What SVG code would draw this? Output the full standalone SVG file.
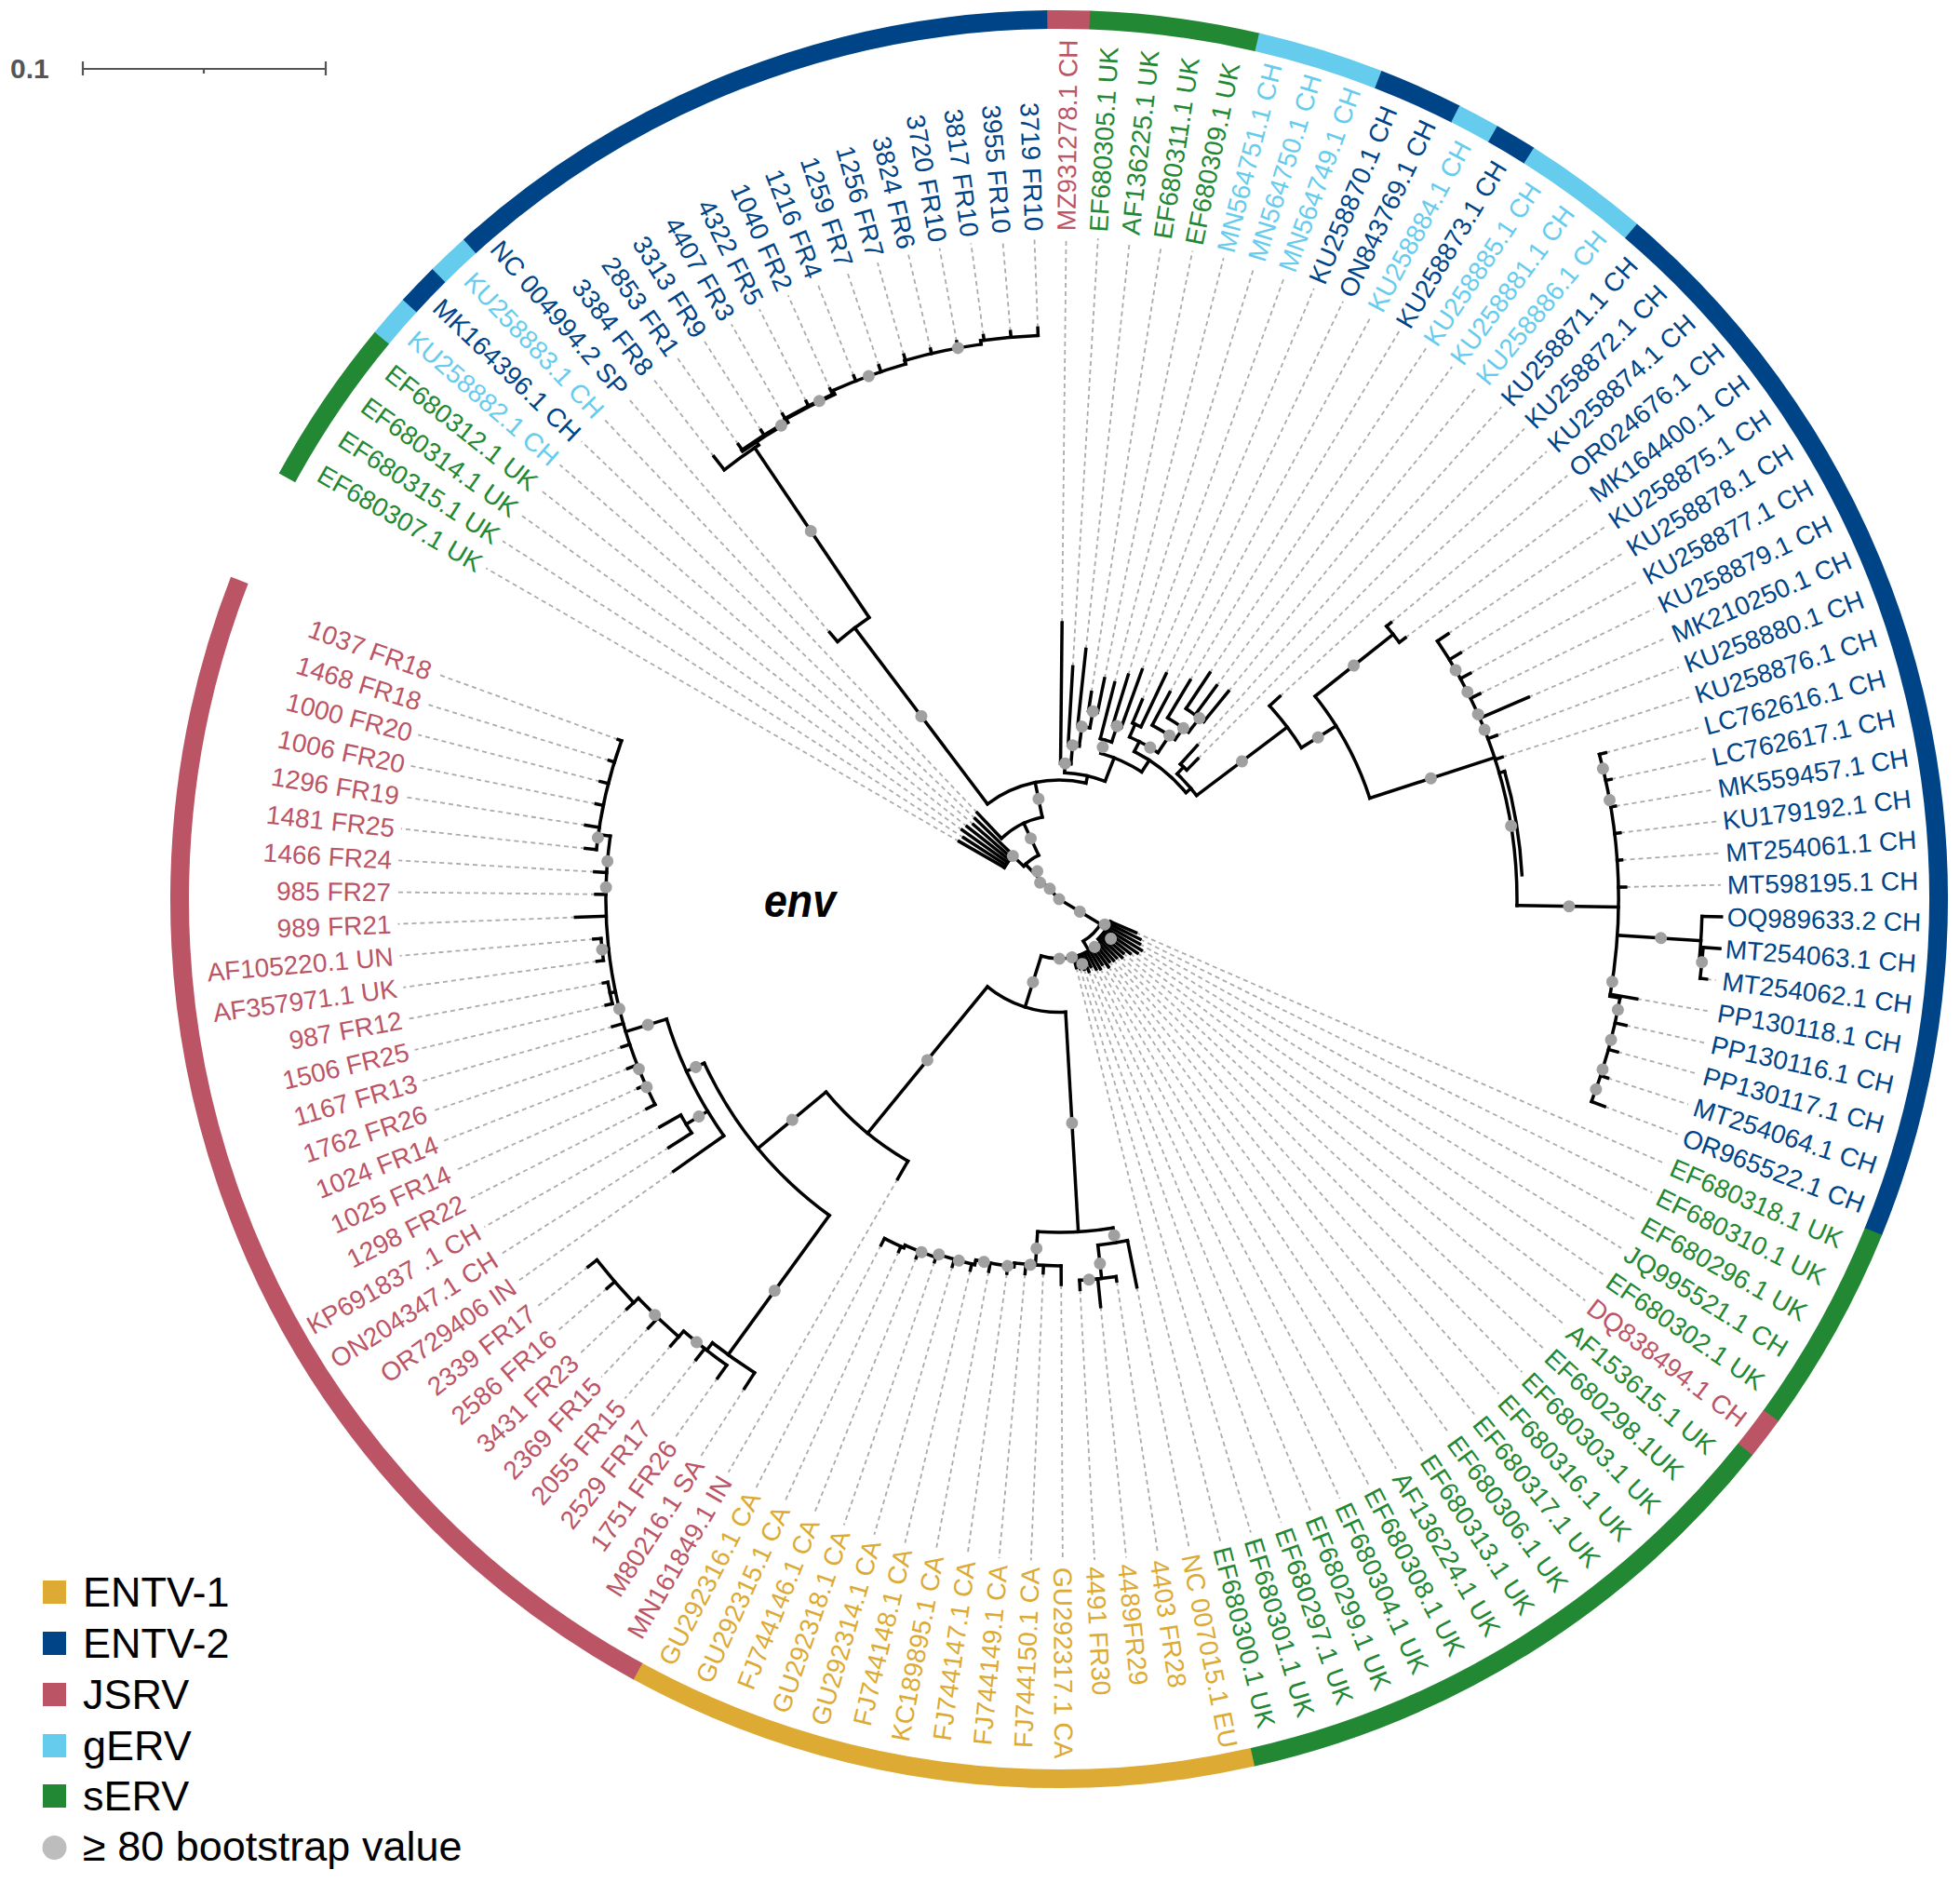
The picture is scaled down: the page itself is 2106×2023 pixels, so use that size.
<svg xmlns="http://www.w3.org/2000/svg" width="2106" height="2023" viewBox="0 0 2106 2023">
<style>
.t{fill:none;stroke:#000;stroke-width:3.5;stroke-linecap:square}
.d{stroke:#ababab;stroke-width:1.8;stroke-dasharray:5 4}
.b{fill:#a0a0a0}
.L{font-family:"Liberation Sans",Arial,sans-serif;font-size:28px}
.e{text-anchor:end}
.c1{fill:#DDAA33}.c2{fill:#004488}.c3{fill:#BB5566}.c4{fill:#66CCEE}.c5{fill:#228833}
.rg{fill:none;stroke-width:20}
.lg{font-family:"Liberation Sans",Arial,sans-serif;font-size:45px;fill:#000}
</style>
<rect width="2106" height="2023" fill="#fff"/>
<g id="scalebar" stroke="#555" stroke-width="2.2" fill="none">
<line x1="89" y1="74" x2="350" y2="74"/><line x1="89" y1="66" x2="89" y2="81"/><line x1="350" y1="66" x2="350" y2="81"/><line x1="219" y1="74" x2="219" y2="79"/>
</g>
<text x="11" y="84" font-family="Liberation Sans, Arial, sans-serif" font-size="30" font-weight="bold" fill="#555">0.1</text>
<text x="821" y="985" font-family="Liberation Sans, Arial, sans-serif" font-size="50" font-weight="bold" font-style="italic" textLength="77" lengthAdjust="spacingAndGlyphs">env</text>
<g transform="translate(1138 966)">
<g id="ring">
<circle class="rg" r="945" stroke="#228833" pathLength="360" stroke-dasharray="11.07 360" transform="rotate(208.62)"/>
<circle class="rg" r="945" stroke="#66CCEE" pathLength="360" stroke-dasharray="2.8 360" transform="rotate(219.64)"/>
<circle class="rg" r="945" stroke="#004488" pathLength="360" stroke-dasharray="2.8 360" transform="rotate(222.40)"/>
<circle class="rg" r="945" stroke="#66CCEE" pathLength="360" stroke-dasharray="2.8 360" transform="rotate(225.15)"/>
<circle class="rg" r="945" stroke="#004488" pathLength="360" stroke-dasharray="41.37 360" transform="rotate(227.91)"/>
<circle class="rg" r="945" stroke="#BB5566" pathLength="360" stroke-dasharray="2.8 360" transform="rotate(269.23)"/>
<circle class="rg" r="945" stroke="#228833" pathLength="360" stroke-dasharray="11.07 360" transform="rotate(-88.01)"/>
<circle class="rg" r="945" stroke="#66CCEE" pathLength="360" stroke-dasharray="8.31 360" transform="rotate(-76.99)"/>
<circle class="rg" r="945" stroke="#004488" pathLength="360" stroke-dasharray="5.56 360" transform="rotate(-68.73)"/>
<circle class="rg" r="945" stroke="#66CCEE" pathLength="360" stroke-dasharray="2.8 360" transform="rotate(-63.22)"/>
<circle class="rg" r="945" stroke="#004488" pathLength="360" stroke-dasharray="2.8 360" transform="rotate(-60.46)"/>
<circle class="rg" r="945" stroke="#66CCEE" pathLength="360" stroke-dasharray="8.31 360" transform="rotate(-57.71)"/>
<circle class="rg" r="945" stroke="#004488" pathLength="360" stroke-dasharray="71.68 360" transform="rotate(-49.44)"/>
<circle class="rg" r="945" stroke="#228833" pathLength="360" stroke-dasharray="13.82 360" transform="rotate(22.19)"/>
<circle class="rg" r="945" stroke="#BB5566" pathLength="360" stroke-dasharray="2.8 360" transform="rotate(35.96)"/>
<circle class="rg" r="945" stroke="#228833" pathLength="360" stroke-dasharray="38.62 360" transform="rotate(38.72)"/>
<circle class="rg" r="945" stroke="#DDAA33" pathLength="360" stroke-dasharray="41.37 360" transform="rotate(77.29)"/>
<circle class="rg" r="945" stroke="#BB5566" pathLength="360" stroke-dasharray="82.65 360" transform="rotate(118.61)"/>
</g>
<g id="connectors">
<g id="leaders" class="d">
<line x1="124" x2="711" transform="rotate(210)"/><line x1="122" x2="711" transform="rotate(212.76)"/><line x1="128" x2="711" transform="rotate(215.51)"/><line x1="126" x2="711" transform="rotate(218.27)"/><line x1="122" x2="711" transform="rotate(221.02)"/><line x1="125" x2="711" transform="rotate(223.78)"/><line x1="128" x2="711" transform="rotate(226.53)"/><line x1="378" x2="711" transform="rotate(229.29)"/><line x1="603" x2="711" transform="rotate(232.04)"/><line x1="598" x2="711" transform="rotate(234.8)"/><line x1="597" x2="711" transform="rotate(237.55)"/><line x1="600" x2="711" transform="rotate(240.31)"/><line x1="600" x2="711" transform="rotate(243.06)"/><line x1="601" x2="711" transform="rotate(245.82)"/><line x1="604" x2="711" transform="rotate(248.57)"/><line x1="605" x2="711" transform="rotate(251.33)"/><line x1="608" x2="711" transform="rotate(254.08)"/><line x1="607" x2="711" transform="rotate(256.84)"/><line x1="609" x2="711" transform="rotate(259.59)"/><line x1="611" x2="711" transform="rotate(262.35)"/><line x1="612" x2="711" transform="rotate(265.1)"/><line x1="614" x2="711" transform="rotate(267.86)"/>
<line x1="297" x2="711" transform="rotate(-89.39)"/><line x1="250" x2="711" transform="rotate(-86.63)"/><line x1="270" x2="711" transform="rotate(-83.88)"/><line x1="225" x2="711" transform="rotate(-81.12)"/><line x1="242" x2="711" transform="rotate(-78.37)"/><line x1="240" x2="711" transform="rotate(-75.61)"/><line x1="252" x2="711" transform="rotate(-72.86)"/><line x1="262" x2="711" transform="rotate(-70.1)"/><line x1="232" x2="711" transform="rotate(-67.35)"/><line x1="268" x2="711" transform="rotate(-64.59)"/><line x1="252" x2="711" transform="rotate(-61.84)"/><line x1="274" x2="711" transform="rotate(-59.08)"/><line x1="292" x2="711" transform="rotate(-56.33)"/><line x1="285" x2="711" transform="rotate(-53.57)"/><line x1="288" x2="711" transform="rotate(-50.82)"/><line x1="222" x2="711" transform="rotate(-48.06)"/><line x1="212" x2="711" transform="rotate(-45.31)"/><line x1="322" x2="711" transform="rotate(-42.55)"/><line x1="464" x2="711" transform="rotate(-39.8)"/><line x1="466" x2="711" transform="rotate(-37.04)"/><line x1="506" x2="711" transform="rotate(-34.29)"/><line x1="506" x2="711" transform="rotate(-31.53)"/><line x1="504" x2="711" transform="rotate(-28.78)"/><line x1="503" x2="711" transform="rotate(-26.02)"/><line x1="549" x2="711" transform="rotate(-23.27)"/><line x1="502" x2="711" transform="rotate(-20.51)"/><line x1="500" x2="711" transform="rotate(-17.76)"/><line x1="608" x2="711" transform="rotate(-15)"/><line x1="607" x2="711" transform="rotate(-12.25)"/><line x1="606" x2="711" transform="rotate(-9.49)"/><line x1="607" x2="711" transform="rotate(-6.74)"/><line x1="606" x2="711" transform="rotate(-3.98)"/><line x1="609" x2="711" transform="rotate(-1.23)"/><line x1="701" x2="711" transform="rotate(7.04)"/><line x1="630" x2="711" transform="rotate(9.79)"/><line x1="624" x2="711" transform="rotate(12.55)"/><line x1="622" x2="711" transform="rotate(15.3)"/><line x1="620" x2="711" transform="rotate(18.06)"/><line x1="627" x2="711" transform="rotate(20.81)"/>
<line x1="90" x2="711" transform="rotate(23.57)"/><line x1="97" x2="711" transform="rotate(26.32)"/><line x1="99" x2="711" transform="rotate(29.08)"/><line x1="104" x2="711" transform="rotate(31.83)"/><line x1="102" x2="711" transform="rotate(34.59)"/><line x1="96" x2="711" transform="rotate(37.34)"/><line x1="90" x2="711" transform="rotate(40.1)"/><line x1="92" x2="711" transform="rotate(42.85)"/><line x1="88" x2="711" transform="rotate(45.61)"/><line x1="88" x2="711" transform="rotate(48.36)"/><line x1="86" x2="711" transform="rotate(51.12)"/><line x1="90" x2="711" transform="rotate(53.87)"/><line x1="84" x2="711" transform="rotate(56.63)"/><line x1="87" x2="711" transform="rotate(59.38)"/><line x1="85" x2="711" transform="rotate(62.14)"/><line x1="80" x2="711" transform="rotate(64.89)"/><line x1="84" x2="711" transform="rotate(67.65)"/><line x1="80" x2="711" transform="rotate(70.4)"/><line x1="78" x2="711" transform="rotate(73.16)"/><line x1="76" x2="711" transform="rotate(75.91)"/>
<line x1="425" x2="711" transform="rotate(78.67)"/><line x1="415" x2="711" transform="rotate(81.42)"/><line x1="440" x2="711" transform="rotate(84.18)"/><line x1="420" x2="711" transform="rotate(86.93)"/><line x1="414" x2="711" transform="rotate(89.69)"/><line x1="402" x2="711" transform="rotate(92.44)"/><line x1="404" x2="711" transform="rotate(95.2)"/><line x1="406" x2="711" transform="rotate(97.95)"/><line x1="407" x2="711" transform="rotate(100.71)"/><line x1="410" x2="711" transform="rotate(103.46)"/><line x1="411" x2="711" transform="rotate(106.22)"/><line x1="412" x2="711" transform="rotate(108.97)"/><line x1="415" x2="711" transform="rotate(111.73)"/><line x1="416" x2="711" transform="rotate(114.48)"/><line x1="418" x2="711" transform="rotate(117.24)"/>
<line x1="347" x2="711" transform="rotate(119.99)"/><line x1="625" x2="711" transform="rotate(122.75)"/><line x1="632" x2="711" transform="rotate(125.5)"/><line x1="630" x2="711" transform="rotate(128.26)"/><line x1="636" x2="711" transform="rotate(131.01)"/><line x1="638" x2="711" transform="rotate(133.77)"/><line x1="640" x2="711" transform="rotate(136.52)"/><line x1="641" x2="711" transform="rotate(139.28)"/><line x1="642" x2="711" transform="rotate(142.03)"/><line x1="507" x2="711" transform="rotate(144.79)"/><line x1="497" x2="711" transform="rotate(147.54)"/><line x1="494" x2="711" transform="rotate(150.3)"/><line x1="497" x2="711" transform="rotate(153.05)"/><line x1="496" x2="711" transform="rotate(155.81)"/><line x1="498" x2="711" transform="rotate(158.56)"/><line x1="496" x2="711" transform="rotate(161.32)"/><line x1="499" x2="711" transform="rotate(164.07)"/><line x1="500" x2="711" transform="rotate(166.83)"/><line x1="498" x2="711" transform="rotate(169.58)"/><line x1="501" x2="711" transform="rotate(172.34)"/><line x1="502" x2="711" transform="rotate(175.09)"/><line x1="520" x2="711" transform="rotate(177.85)"/><line x1="498" x2="711" transform="rotate(180.6)"/><line x1="500" x2="711" transform="rotate(183.36)"/><line x1="512" x2="711" transform="rotate(186.11)"/><line x1="515" x2="711" transform="rotate(188.87)"/><line x1="508" x2="711" transform="rotate(191.62)"/><line x1="509" x2="711" transform="rotate(194.38)"/><line x1="506" x2="711" transform="rotate(197.13)"/><line x1="504" x2="711" transform="rotate(199.89)"/>
</g>
<g id="branches" class="t">
<!-- root, up-left -->
<line x1="0" x2="52" transform="rotate(226)"/>
<circle r="52" pathLength="360" stroke-dasharray="22 360" transform="rotate(223)"/>
<line x1="52" x2="90" transform="rotate(245)"/>
<circle r="90" pathLength="360" stroke-dasharray="31.87 360" transform="rotate(226.53)"/>
<line x1="90" x2="128" transform="rotate(226.53)"/>
<line x1="90" x2="128" transform="rotate(258.4)"/>
<line x1="52" x2="68" transform="rotate(223)"/>
<circle r="68" pathLength="360" stroke-dasharray="13.78 360" transform="rotate(210)"/>
<line x1="68" x2="124" transform="rotate(210)"/><line x1="68" x2="122" transform="rotate(212.76)"/><line x1="68" x2="128" transform="rotate(215.51)"/><line x1="68" x2="126" transform="rotate(218.27)"/><line x1="68" x2="122" transform="rotate(221.02)"/><line x1="68" x2="125" transform="rotate(223.78)"/>
<!-- Y -->
<circle r="128" pathLength="360" stroke-dasharray="50 360" transform="rotate(233)"/>
<line x1="128" x2="365" transform="rotate(233)"/>
<circle r="365" pathLength="360" stroke-dasharray="6.71 360" transform="rotate(229.29)"/>
<line x1="365" x2="378" transform="rotate(229.29)"/>
<line x1="365" x2="585" transform="rotate(236)"/>
<circle r="585" pathLength="360" stroke-dasharray="4.46 360" transform="rotate(232.04)"/>
<line x1="585" x2="603" transform="rotate(232.04)"/>
<line x1="585" x2="590" transform="rotate(236.5)"/>
<circle r="590" pathLength="360" stroke-dasharray="5.5 360" transform="rotate(234.8)" stroke-width="5"/>
<line x1="590" x2="594" transform="rotate(240.3)"/>
<circle r="594" pathLength="360" stroke-dasharray="5.7 360" transform="rotate(240.3)" stroke-width="4.5"/>
<line x1="594" x2="598" transform="rotate(246)"/>
<circle r="598" pathLength="360" stroke-dasharray="8 360" transform="rotate(246)"/>
<line x1="598" x2="602" transform="rotate(254)"/>
<circle r="602" pathLength="360" stroke-dasharray="8 360" transform="rotate(254)"/>
<line x1="602" x2="606" transform="rotate(262)"/>
<circle r="606" pathLength="360" stroke-dasharray="5.86 360" transform="rotate(262)"/>
<line x1="590" x2="598" transform="rotate(234.8)"/><line x1="590" x2="597" transform="rotate(237.55)"/><line x1="594" x2="600" transform="rotate(240.31)"/><line x1="594" x2="600" transform="rotate(243.06)"/><line x1="594" x2="601" transform="rotate(245.82)"/><line x1="598" x2="604" transform="rotate(248.57)"/><line x1="598" x2="605" transform="rotate(251.33)"/><line x1="602" x2="608" transform="rotate(254.08)"/><line x1="602" x2="607" transform="rotate(256.84)"/><line x1="602" x2="609" transform="rotate(259.59)"/><line x1="606" x2="611" transform="rotate(262.35)"/><line x1="606" x2="612" transform="rotate(265.1)"/><line x1="606" x2="614" transform="rotate(267.86)"/>
<!-- T -->
<line x1="128" x2="136" transform="rotate(-77)"/>
<circle r="136" pathLength="360" stroke-dasharray="18.8 360" transform="rotate(-87.5)"/>
<line x1="136" x2="146" transform="rotate(-87.5)"/>
<circle r="146" pathLength="360" stroke-dasharray="4.39 360" transform="rotate(-89.39)"/>
<line x1="146" x2="297" transform="rotate(-89.39)"/>
<line x1="146" x2="166" transform="rotate(-85)"/>
<circle r="166" pathLength="360" stroke-dasharray="4.13 360" transform="rotate(-86.63)"/>
<line x1="166" x2="250" transform="rotate(-86.63)"/>
<line x1="166" x2="187" transform="rotate(-82.5)"/>
<circle r="187" pathLength="360" stroke-dasharray="4.08 360" transform="rotate(-83.88)"/>
<line x1="187" x2="270" transform="rotate(-83.88)"/>
<line x1="187" x2="205" transform="rotate(-79.8)"/>
<circle r="205" pathLength="360" stroke-dasharray="2.75 360" transform="rotate(-81.12)"/>
<line x1="205" x2="225" transform="rotate(-81.12)"/>
<line x1="205" x2="242" transform="rotate(-78.37)"/>
<line x1="136" x2="163" transform="rotate(-68.7)"/>
<circle r="163" pathLength="360" stroke-dasharray="17 360" transform="rotate(-74)"/>
<line x1="163" x2="178" transform="rotate(-74)"/>
<circle r="178" pathLength="360" stroke-dasharray="4.11 360" transform="rotate(-75.61)"/>
<line x1="178" x2="240" transform="rotate(-75.61)"/>
<line x1="178" x2="196" transform="rotate(-71.5)"/>
<circle r="196" pathLength="360" stroke-dasharray="2.76 360" transform="rotate(-72.86)"/>
<line x1="196" x2="252" transform="rotate(-72.86)"/>
<line x1="196" x2="262" transform="rotate(-70.1)"/>
<line x1="163" x2="178" transform="rotate(-57)"/>
<circle r="178" pathLength="360" stroke-dasharray="23 360" transform="rotate(-63)"/>
<line x1="178" x2="190" transform="rotate(-63)"/>
<circle r="190" pathLength="360" stroke-dasharray="10.5 360" transform="rotate(-66.5)"/>
<line x1="190" x2="205" transform="rotate(-66.5)"/>
<circle r="205" pathLength="360" stroke-dasharray="2.76 360" transform="rotate(-67.35)"/>
<line x1="205" x2="232" transform="rotate(-67.35)"/>
<line x1="205" x2="268" transform="rotate(-64.59)"/>
<line x1="190" x2="212" transform="rotate(-56)"/>
<circle r="212" pathLength="360" stroke-dasharray="7.84 360" transform="rotate(-61.84)"/>
<line x1="212" x2="252" transform="rotate(-61.84)"/>
<line x1="212" x2="227" transform="rotate(-54)"/>
<circle r="227" pathLength="360" stroke-dasharray="6.88 360" transform="rotate(-59.08)"/>
<line x1="227" x2="274" transform="rotate(-59.08)"/>
<line x1="227" x2="246" transform="rotate(-52.2)"/>
<circle r="246" pathLength="360" stroke-dasharray="5.51 360" transform="rotate(-56.33)"/>
<line x1="246" x2="292" transform="rotate(-56.33)"/>
<line x1="246" x2="285" transform="rotate(-53.57)"/>
<line x1="246" x2="288" transform="rotate(-50.82)"/>
<line x1="178" x2="185" transform="rotate(-40)"/>
<circle r="185" pathLength="360" stroke-dasharray="9.7 360" transform="rotate(-46.7)"/>
<line x1="185" x2="195" transform="rotate(-46.7)"/>
<circle r="195" pathLength="360" stroke-dasharray="2.75 360" transform="rotate(-48.06)"/>
<line x1="195" x2="222" transform="rotate(-48.06)"/>
<line x1="195" x2="212" transform="rotate(-45.31)"/>
<line x1="185" x2="307" transform="rotate(-37)"/>
<!-- right clade -->
<circle r="307" pathLength="360" stroke-dasharray="10.55 360" transform="rotate(-42.55)"/>
<line x1="307" x2="322" transform="rotate(-42.55)"/>
<line x1="307" x2="351" transform="rotate(-32)"/>
<circle r="351" pathLength="360" stroke-dasharray="20.4 360" transform="rotate(-38.4)"/>
<line x1="351" x2="458" transform="rotate(-38.4)"/>
<circle r="458" pathLength="360" stroke-dasharray="2.76 360" transform="rotate(-39.8)"/>
<line x1="458" x2="464" transform="rotate(-39.8)"/>
<line x1="458" x2="466" transform="rotate(-37.04)"/>
<line x1="351" x2="492" transform="rotate(-18)"/>
<circle r="492" pathLength="360" stroke-dasharray="35.09 360" transform="rotate(-34.29)"/>
<line x1="492" x2="498" transform="rotate(-16)"/>
<circle r="498" pathLength="360" stroke-dasharray="13 360" transform="rotate(-16)"/>
<line x1="492" x2="506" transform="rotate(-34.29)"/><line x1="492" x2="506" transform="rotate(-31.53)"/><line x1="492" x2="504" transform="rotate(-28.78)"/><line x1="492" x2="503" transform="rotate(-26.02)"/><line x1="492" x2="549" transform="rotate(-23.27)"/><line x1="492" x2="502" transform="rotate(-20.51)"/><line x1="492" x2="500" transform="rotate(-17.76)"/>
<line x1="492" x2="601" transform="rotate(0.8)"/>
<circle r="601" pathLength="360" stroke-dasharray="25 360" transform="rotate(-15)"/>
<line x1="601" x2="612" transform="rotate(10)"/>
<circle r="612" pathLength="360" stroke-dasharray="10.81 360" transform="rotate(10)"/>
<line x1="601" x2="608" transform="rotate(-15)"/><line x1="601" x2="607" transform="rotate(-12.25)"/><line x1="601" x2="606" transform="rotate(-9.49)"/><line x1="601" x2="607" transform="rotate(-6.74)"/><line x1="601" x2="606" transform="rotate(-3.98)"/><line x1="601" x2="609" transform="rotate(-1.23)"/>
<line x1="601" x2="691" transform="rotate(3.7)"/>
<circle r="691" pathLength="360" stroke-dasharray="4.07 360" transform="rotate(1.53)"/>
<line x1="691" x2="712" transform="rotate(1.53)"/>
<line x1="691" x2="694" transform="rotate(5.6)"/>
<circle r="694" pathLength="360" stroke-dasharray="2.76 360" transform="rotate(4.28)"/>
<line x1="694" x2="712" transform="rotate(4.28)"/>
<line x1="694" x2="701" transform="rotate(7.04)"/>
<line x1="601" x2="630" transform="rotate(9.79)"/><line x1="612" x2="624" transform="rotate(12.55)"/><line x1="612" x2="622" transform="rotate(15.3)"/><line x1="612" x2="620" transform="rotate(18.06)"/><line x1="612" x2="627" transform="rotate(20.81)"/>
<!-- bottom right sERV -->
<line x1="0" x2="52" transform="rotate(31)"/>
<circle r="52" pathLength="360" stroke-dasharray="31 360" transform="rotate(29)"/>
<line x1="52" x2="60" transform="rotate(29)"/>
<circle r="60" pathLength="360" stroke-dasharray="22.04 360" transform="rotate(23.57)"/>
<line x1="60" x2="90" transform="rotate(23.57)"/><line x1="60" x2="97" transform="rotate(26.32)"/><line x1="60" x2="99" transform="rotate(29.08)"/><line x1="60" x2="104" transform="rotate(31.83)"/><line x1="60" x2="102" transform="rotate(34.59)"/><line x1="60" x2="96" transform="rotate(37.34)"/><line x1="60" x2="90" transform="rotate(40.1)"/><line x1="60" x2="92" transform="rotate(42.85)"/><line x1="60" x2="88" transform="rotate(45.61)"/>
<line x1="52" x2="64" transform="rotate(60)"/>
<circle r="64" pathLength="360" stroke-dasharray="59.14 360" transform="rotate(48.36)"/>
<line x1="64" x2="88" transform="rotate(48.36)"/><line x1="64" x2="86" transform="rotate(51.12)"/><line x1="64" x2="90" transform="rotate(53.87)"/><line x1="64" x2="84" transform="rotate(56.63)"/><line x1="64" x2="87" transform="rotate(59.38)"/><line x1="64" x2="85" transform="rotate(62.14)"/><line x1="64" x2="80" transform="rotate(64.89)"/><line x1="64" x2="84" transform="rotate(67.65)"/><line x1="64" x2="80" transform="rotate(70.4)"/><line x1="64" x2="78" transform="rotate(73.16)"/><line x1="64" x2="76" transform="rotate(75.91)"/>
<line x1="64" x2="121.5" transform="rotate(107.5)"/>
<circle r="121.5" pathLength="360" stroke-dasharray="42.6 360" transform="rotate(86.7)"/>
<!-- ENTV-1 -->
<line x1="121.5" x2="358" transform="rotate(86.7)"/>
<circle r="358" pathLength="360" stroke-dasharray="13 360" transform="rotate(80.7)"/>
<line x1="358" x2="394" transform="rotate(93.7)"/>
<circle r="394" pathLength="360" stroke-dasharray="7.31 360" transform="rotate(89.69)"/>
<line x1="394" x2="398" transform="rotate(97)"/>
<circle r="398" pathLength="360" stroke-dasharray="6 360" transform="rotate(97)"/>
<line x1="398" x2="403" transform="rotate(103)"/>
<circle r="403" pathLength="360" stroke-dasharray="6 360" transform="rotate(103)"/>
<line x1="403" x2="407" transform="rotate(109)"/>
<circle r="407" pathLength="360" stroke-dasharray="5 360" transform="rotate(109)"/>
<line x1="407" x2="410" transform="rotate(114)"/>
<circle r="410" pathLength="360" stroke-dasharray="3.24 360" transform="rotate(114)"/>
<line x1="394" x2="414" transform="rotate(89.69)"/><line x1="394" x2="402" transform="rotate(92.44)"/><line x1="394" x2="404" transform="rotate(95.2)"/><line x1="398" x2="406" transform="rotate(97.95)"/><line x1="398" x2="407" transform="rotate(100.71)"/><line x1="403" x2="410" transform="rotate(103.46)"/><line x1="403" x2="411" transform="rotate(106.22)"/><line x1="403" x2="412" transform="rotate(108.97)"/><line x1="407" x2="415" transform="rotate(111.73)"/><line x1="410" x2="416" transform="rotate(114.48)"/><line x1="410" x2="418" transform="rotate(117.24)"/>
<line x1="358" x2="374" transform="rotate(80.7)"/>
<circle r="374" pathLength="360" stroke-dasharray="4.93 360" transform="rotate(78.67)"/>
<line x1="374" x2="425" transform="rotate(78.67)"/>
<line x1="374" x2="410" transform="rotate(83.6)"/>
<circle r="410" pathLength="360" stroke-dasharray="5.51 360" transform="rotate(81.42)"/>
<line x1="410" x2="415" transform="rotate(81.42)"/>
<line x1="410" x2="440" transform="rotate(84.18)"/>
<line x1="410" x2="420" transform="rotate(86.93)"/>
<!-- JSRV -->
<line x1="121.5" x2="325" transform="rotate(129.3)"/>
<circle r="325" pathLength="360" stroke-dasharray="20.41 360" transform="rotate(119.99)"/>
<line x1="325" x2="347" transform="rotate(119.99)"/>
<line x1="325" x2="420" transform="rotate(140.4)"/>
<circle r="420" pathLength="360" stroke-dasharray="29.2 360" transform="rotate(126)"/>
<line x1="420" x2="605" transform="rotate(126)"/>
<circle r="605" pathLength="360" stroke-dasharray="5.25 360" transform="rotate(122.75)"/>
<line x1="605" x2="625" transform="rotate(122.75)"/>
<line x1="605" x2="615" transform="rotate(128)"/>
<circle r="615" pathLength="360" stroke-dasharray="5.5 360" transform="rotate(125.5)"/>
<line x1="615" x2="623" transform="rotate(131)"/>
<circle r="623" pathLength="360" stroke-dasharray="5.51 360" transform="rotate(131.01)"/>
<line x1="623" x2="630" transform="rotate(136.52)"/>
<circle r="630" pathLength="360" stroke-dasharray="5.51 360" transform="rotate(136.52)"/>
<line x1="615" x2="632" transform="rotate(125.5)"/><line x1="615" x2="630" transform="rotate(128.26)"/><line x1="623" x2="636" transform="rotate(131.01)"/><line x1="623" x2="638" transform="rotate(133.77)"/><line x1="630" x2="640" transform="rotate(136.52)"/><line x1="630" x2="641" transform="rotate(139.28)"/><line x1="630" x2="642" transform="rotate(142.03)"/>
<line x1="420" x2="441" transform="rotate(155.2)"/>
<circle r="441" pathLength="360" stroke-dasharray="18.21 360" transform="rotate(144.79)"/>
<line x1="441" x2="507" transform="rotate(144.79)"/>
<line x1="441" x2="468" transform="rotate(148.9)"/>
<circle r="468" pathLength="360" stroke-dasharray="2.76 360" transform="rotate(147.54)"/>
<line x1="468" x2="497" transform="rotate(147.54)"/>
<line x1="468" x2="494" transform="rotate(150.3)"/>
<line x1="441" x2="487" transform="rotate(163)"/>
<circle r="487" pathLength="360" stroke-dasharray="34.95 360" transform="rotate(153.05)"/>
<line x1="487" x2="500" transform="rotate(188)"/>
<circle r="500" pathLength="360" stroke-dasharray="13.78 360" transform="rotate(186.11)"/>
<line x1="487" x2="493" transform="rotate(168.2)"/>
<circle r="493" pathLength="360" stroke-dasharray="2.75 360" transform="rotate(166.83)"/>
<line x1="487" x2="494" transform="rotate(173.7)"/>
<circle r="494" pathLength="360" stroke-dasharray="2.75 360" transform="rotate(172.34)"/>
<line x1="487" x2="497" transform="rotate(153.05)"/><line x1="487" x2="496" transform="rotate(155.81)"/><line x1="487" x2="498" transform="rotate(158.56)"/><line x1="487" x2="496" transform="rotate(161.32)"/><line x1="487" x2="499" transform="rotate(164.07)"/><line x1="493" x2="500" transform="rotate(166.83)"/><line x1="493" x2="498" transform="rotate(169.58)"/><line x1="494" x2="501" transform="rotate(172.34)"/><line x1="494" x2="502" transform="rotate(175.09)"/><line x1="487" x2="520" transform="rotate(177.85)"/><line x1="487" x2="498" transform="rotate(180.6)"/><line x1="487" x2="500" transform="rotate(183.36)"/>
<line x1="500" x2="512" transform="rotate(186.11)"/><line x1="500" x2="515" transform="rotate(188.87)"/><line x1="500" x2="508" transform="rotate(191.62)"/><line x1="500" x2="509" transform="rotate(194.38)"/><line x1="500" x2="506" transform="rotate(197.13)"/><line x1="500" x2="504" transform="rotate(199.89)"/>
</g>
<g id="bootstrap" class="b">
<circle r="6.5"/>
<circle cx="15" r="6.5" transform="rotate(228)"/><circle cx="27" r="6.5" transform="rotate(221)"/><circle cx="38" r="6.5" transform="rotate(232)"/><circle cx="68" r="6.5" transform="rotate(223)"/><circle cx="72" r="6.5" transform="rotate(245)"/><circle cx="110" r="6.5" transform="rotate(258.4)"/>
<circle cx="246" r="6.5" transform="rotate(233)"/><circle cx="477" r="6.5" transform="rotate(236)"/><circle cx="590" r="6.5" transform="rotate(239.6)"/><circle cx="594" r="6.5" transform="rotate(244.3)"/><circle cx="598" r="6.5" transform="rotate(250)"/><circle cx="602" r="6.5" transform="rotate(259.6)"/>
<circle cx="146" r="6.5" transform="rotate(-87.5)"/><circle cx="166" r="6.5" transform="rotate(-85)"/><circle cx="187" r="6.5" transform="rotate(-82.5)"/><circle cx="205" r="6.5" transform="rotate(-79.8)"/>
<circle cx="170" r="6.5" transform="rotate(-74)"/><circle cx="196" r="6.5" transform="rotate(-71.5)"/><circle cx="190" r="6.5" transform="rotate(-59)"/><circle cx="212" r="6.5" transform="rotate(-56)"/><circle cx="227" r="6.5" transform="rotate(-54)"/><circle cx="246" r="6.5" transform="rotate(-52.2)"/>
<circle cx="246" r="6.5" transform="rotate(-37)"/><circle cx="328" r="6.5" transform="rotate(-32)"/><circle cx="404" r="6.5" transform="rotate(-38.4)"/><circle cx="420" r="6.5" transform="rotate(-18)"/>
<circle cx="492" r="6.5" transform="rotate(-30)"/><circle cx="492" r="6.5" transform="rotate(-26.9)"/><circle cx="492" r="6.5" transform="rotate(-23.8)"/><circle cx="492" r="6.5" transform="rotate(-21.7)"/><circle cx="492" r="6.5" transform="rotate(-9.2)"/>
<circle cx="548" r="6.5" transform="rotate(0.8)"/><circle cx="601" r="6.5" transform="rotate(-13.5)"/><circle cx="601" r="6.5" transform="rotate(-10.2)"/><circle cx="601" r="6.5" transform="rotate(8.5)"/><circle cx="612" r="6.5" transform="rotate(11.2)"/><circle cx="612" r="6.5" transform="rotate(14.3)"/><circle cx="612" r="6.5" transform="rotate(17.4)"/><circle cx="612" r="6.5" transform="rotate(19.5)"/>
<circle cx="648" r="6.5" transform="rotate(3.7)"/><circle cx="694" r="6.5" transform="rotate(5.6)"/>
<circle cx="26" r="6.5" transform="rotate(31)"/><circle cx="56" r="6.5" transform="rotate(29)"/><circle cx="70" r="6.5" transform="rotate(37.34)"/><circle cx="64" r="6.5" transform="rotate(53.4)"/><circle cx="74" r="6.5" transform="rotate(70.4)"/><circle cx="64" r="6.5" transform="rotate(77.6)"/><circle cx="64" r="6.5" transform="rotate(89.7)"/><circle cx="93.5" r="6.5" transform="rotate(107.5)"/>
<circle cx="241" r="6.5" transform="rotate(86.7)"/><circle cx="376" r="6.5" transform="rotate(93.7)"/><circle cx="394" r="6.5" transform="rotate(94.5)"/><circle cx="398" r="6.5" transform="rotate(98)"/><circle cx="398" r="6.5" transform="rotate(101.7)"/><circle cx="403" r="6.5" transform="rotate(105.5)"/><circle cx="403" r="6.5" transform="rotate(108.7)"/><circle cx="407" r="6.5" transform="rotate(111.3)"/>
<circle cx="366" r="6.5" transform="rotate(80.7)"/><circle cx="394" r="6.5" transform="rotate(83.6)"/><circle cx="410" r="6.5" transform="rotate(85.5)"/>
<circle cx="223.5" r="6.5" transform="rotate(129.3)"/><circle cx="372" r="6.5" transform="rotate(140.4)"/><circle cx="520" r="6.5" transform="rotate(126)"/><circle cx="615" r="6.5" transform="rotate(129.3)"/><circle cx="623" r="6.5" transform="rotate(134.2)"/>
<circle cx="430" r="6.5" transform="rotate(155.2)"/><circle cx="452" r="6.5" transform="rotate(148.9)"/><circle cx="462" r="6.5" transform="rotate(163)"/>
<circle cx="487" r="6.5" transform="rotate(155.5)"/><circle cx="487" r="6.5" transform="rotate(158)"/><circle cx="487" r="6.5" transform="rotate(166)"/><circle cx="494" r="6.5" transform="rotate(173.7)"/><circle cx="487" r="6.5" transform="rotate(181.5)"/><circle cx="487" r="6.5" transform="rotate(184.8)"/><circle cx="500" r="6.5" transform="rotate(187.6)"/>
</g>
</g>
<g id="labels" class="L">
<g id="n1"><text class="c5 e" transform="rotate(30)" x="-718" dy=".35em">EF680307.1 UK</text></g>
<g id="n2"><text class="c5 e" transform="rotate(32.76)" x="-718" dy=".35em">EF680315.1 UK</text></g>
<g id="n3"><text class="c5 e" transform="rotate(35.51)" x="-718" dy=".35em">EF680314.1 UK</text></g>
<g id="n4"><text class="c5 e" transform="rotate(38.27)" x="-718" dy=".35em">EF680312.1 UK</text></g>
<g id="n5"><text class="c4 e" transform="rotate(41.02)" x="-718" dy=".35em">KU258882.1 CH</text></g>
<g id="n6"><text class="c2 e" transform="rotate(43.78)" x="-718" dy=".35em">MK164396.1 CH</text></g>
<g id="n7"><text class="c4 e" transform="rotate(46.53)" x="-718" dy=".35em">KU258883.1 CH</text></g>
<g id="n8"><text class="c2 e" transform="rotate(49.29)" x="-718" dy=".35em">NC 004994.2 SP</text></g>
<g id="n9"><text class="c2 e" transform="rotate(52.04)" x="-718" dy=".35em">3384 FR8</text></g>
<g id="n10"><text class="c2 e" transform="rotate(54.8)" x="-718" dy=".35em">2853 FR1</text></g>
<g id="n11"><text class="c2 e" transform="rotate(57.55)" x="-718" dy=".35em">3313 FR9</text></g>
<g id="n12"><text class="c2 e" transform="rotate(60.31)" x="-718" dy=".35em">4407 FR3</text></g>
<g id="n13"><text class="c2 e" transform="rotate(63.06)" x="-718" dy=".35em">4322 FR5</text></g>
<g id="n14"><text class="c2 e" transform="rotate(65.82)" x="-718" dy=".35em">1040 FR2</text></g>
<g id="n15"><text class="c2 e" transform="rotate(68.57)" x="-718" dy=".35em">1216 FR4</text></g>
<g id="n16"><text class="c2 e" transform="rotate(71.33)" x="-718" dy=".35em">1259 FR7</text></g>
<g id="n17"><text class="c2 e" transform="rotate(74.08)" x="-718" dy=".35em">1256 FR7</text></g>
<g id="n18"><text class="c2 e" transform="rotate(76.84)" x="-718" dy=".35em">3824 FR6</text></g>
<g id="n19"><text class="c2 e" transform="rotate(79.59)" x="-718" dy=".35em">3720 FR10</text></g>
<g id="n20"><text class="c2 e" transform="rotate(82.35)" x="-718" dy=".35em">3817 FR10</text></g>
<g id="n21"><text class="c2 e" transform="rotate(85.1)" x="-718" dy=".35em">3955 FR10</text></g>
<g id="n22"><text class="c2 e" transform="rotate(87.86)" x="-718" dy=".35em">3719 FR10</text></g>
<g id="n23"><text class="c3" transform="rotate(-89.39)" x="718" dy=".35em">MZ931278.1 CH</text></g>
<g id="n24"><text class="c5" transform="rotate(-86.63)" x="718" dy=".35em">EF680305.1 UK</text></g>
<g id="n25"><text class="c5" transform="rotate(-83.88)" x="718" dy=".35em">AF136225.1 UK</text></g>
<g id="n26"><text class="c5" transform="rotate(-81.12)" x="718" dy=".35em">EF680311.1 UK</text></g>
<g id="n27"><text class="c5" transform="rotate(-78.37)" x="718" dy=".35em">EF680309.1 UK</text></g>
<g id="n28"><text class="c4" transform="rotate(-75.61)" x="718" dy=".35em">MN564751.1 CH</text></g>
<g id="n29"><text class="c4" transform="rotate(-72.86)" x="718" dy=".35em">MN564750.1 CH</text></g>
<g id="n30"><text class="c4" transform="rotate(-70.1)" x="718" dy=".35em">MN564749.1 CH</text></g>
<g id="n31"><text class="c2" transform="rotate(-67.35)" x="718" dy=".35em">KU258870.1 CH</text></g>
<g id="n32"><text class="c2" transform="rotate(-64.59)" x="718" dy=".35em">ON843769.1 CH</text></g>
<g id="n33"><text class="c4" transform="rotate(-61.84)" x="718" dy=".35em">KU258884.1 CH</text></g>
<g id="n34"><text class="c2" transform="rotate(-59.08)" x="718" dy=".35em">KU258873.1 CH</text></g>
<g id="n35"><text class="c4" transform="rotate(-56.33)" x="718" dy=".35em">KU258885.1 CH</text></g>
<g id="n36"><text class="c4" transform="rotate(-53.57)" x="718" dy=".35em">KU258881.1 CH</text></g>
<g id="n37"><text class="c4" transform="rotate(-50.82)" x="718" dy=".35em">KU258886.1 CH</text></g>
<g id="n38"><text class="c2" transform="rotate(-48.06)" x="718" dy=".35em">KU258871.1 CH</text></g>
<g id="n39"><text class="c2" transform="rotate(-45.31)" x="718" dy=".35em">KU258872.1 CH</text></g>
<g id="n40"><text class="c2" transform="rotate(-42.55)" x="718" dy=".35em">KU258874.1 CH</text></g>
<g id="n41"><text class="c2" transform="rotate(-39.8)" x="718" dy=".35em">OR024676.1 CH</text></g>
<g id="n42"><text class="c2" transform="rotate(-37.04)" x="718" dy=".35em">MK164400.1 CH</text></g>
<g id="n43"><text class="c2" transform="rotate(-34.29)" x="718" dy=".35em">KU258875.1 CH</text></g>
<g id="n44"><text class="c2" transform="rotate(-31.53)" x="718" dy=".35em">KU258878.1 CH</text></g>
<g id="n45"><text class="c2" transform="rotate(-28.78)" x="718" dy=".35em">KU258877.1 CH</text></g>
<g id="n46"><text class="c2" transform="rotate(-26.02)" x="718" dy=".35em">KU258879.1 CH</text></g>
<g id="n47"><text class="c2" transform="rotate(-23.27)" x="718" dy=".35em">MK210250.1 CH</text></g>
<g id="n48"><text class="c2" transform="rotate(-20.51)" x="718" dy=".35em">KU258880.1 CH</text></g>
<g id="n49"><text class="c2" transform="rotate(-17.76)" x="718" dy=".35em">KU258876.1 CH</text></g>
<g id="n50"><text class="c2" transform="rotate(-15)" x="718" dy=".35em">LC762616.1 CH</text></g>
<g id="n51"><text class="c2" transform="rotate(-12.25)" x="718" dy=".35em">LC762617.1 CH</text></g>
<g id="n52"><text class="c2" transform="rotate(-9.49)" x="718" dy=".35em">MK559457.1 CH</text></g>
<g id="n53"><text class="c2" transform="rotate(-6.74)" x="718" dy=".35em">KU179192.1 CH</text></g>
<g id="n54"><text class="c2" transform="rotate(-3.98)" x="718" dy=".35em">MT254061.1 CH</text></g>
<g id="n55"><text class="c2" transform="rotate(-1.23)" x="718" dy=".35em">MT598195.1 CH</text></g>
<g id="n56"><text class="c2" transform="rotate(1.53)" x="718" dy=".35em">OQ989633.2 CH</text></g>
<g id="n57"><text class="c2" transform="rotate(4.28)" x="718" dy=".35em">MT254063.1 CH</text></g>
<g id="n58"><text class="c2" transform="rotate(7.04)" x="718" dy=".35em">MT254062.1 CH</text></g>
<g id="n59"><text class="c2" transform="rotate(9.79)" x="718" dy=".35em">PP130118.1 CH</text></g>
<g id="n60"><text class="c2" transform="rotate(12.55)" x="718" dy=".35em">PP130116.1 CH</text></g>
<g id="n61"><text class="c2" transform="rotate(15.3)" x="718" dy=".35em">PP130117.1 CH</text></g>
<g id="n62"><text class="c2" transform="rotate(18.06)" x="718" dy=".35em">MT254064.1 CH</text></g>
<g id="n63"><text class="c2" transform="rotate(20.81)" x="718" dy=".35em">OR965522.1 CH</text></g>
<g id="n64"><text class="c5" transform="rotate(23.57)" x="718" dy=".35em">EF680318.1 UK</text></g>
<g id="n65"><text class="c5" transform="rotate(26.32)" x="718" dy=".35em">EF680310.1 UK</text></g>
<g id="n66"><text class="c5" transform="rotate(29.08)" x="718" dy=".35em">EF680296.1 UK</text></g>
<g id="n67"><text class="c5" transform="rotate(31.83)" x="718" dy=".35em">JQ995521.1 CH</text></g>
<g id="n68"><text class="c5" transform="rotate(34.59)" x="718" dy=".35em">EF680302.1 UK</text></g>
<g id="n69"><text class="c3" transform="rotate(37.34)" x="718" dy=".35em">DQ838494.1 CH</text></g>
<g id="n70"><text class="c5" transform="rotate(40.1)" x="718" dy=".35em">AF153615.1 UK</text></g>
<g id="n71"><text class="c5" transform="rotate(42.85)" x="718" dy=".35em">EF680298.1UK</text></g>
<g id="n72"><text class="c5" transform="rotate(45.61)" x="718" dy=".35em">EF680303.1 UK</text></g>
<g id="n73"><text class="c5" transform="rotate(48.36)" x="718" dy=".35em">EF680316.1 UK</text></g>
<g id="n74"><text class="c5" transform="rotate(51.12)" x="718" dy=".35em">EF680317.1 UK</text></g>
<g id="n75"><text class="c5" transform="rotate(53.87)" x="718" dy=".35em">EF680306.1 UK</text></g>
<g id="n76"><text class="c5" transform="rotate(56.63)" x="718" dy=".35em">EF680313.1 UK</text></g>
<g id="n77"><text class="c5" transform="rotate(59.38)" x="718" dy=".35em">AF136224.1 UK</text></g>
<g id="n78"><text class="c5" transform="rotate(62.14)" x="718" dy=".35em">EF680308.1 UK</text></g>
<g id="n79"><text class="c5" transform="rotate(64.89)" x="718" dy=".35em">EF680304.1 UK</text></g>
<g id="n80"><text class="c5" transform="rotate(67.65)" x="718" dy=".35em">EF680299.1 UK</text></g>
<g id="n81"><text class="c5" transform="rotate(70.4)" x="718" dy=".35em">EF680297.1 UK</text></g>
<g id="n82"><text class="c5" transform="rotate(73.16)" x="718" dy=".35em">EF680301.1 UK</text></g>
<g id="n83"><text class="c5" transform="rotate(75.91)" x="718" dy=".35em">EF680300.1 UK</text></g>
<g id="n84"><text class="c1" transform="rotate(78.67)" x="718" dy=".35em">NC 007015.1 EU</text></g>
<g id="n85"><text class="c1" transform="rotate(81.42)" x="718" dy=".35em">4403 FR28</text></g>
<g id="n86"><text class="c1" transform="rotate(84.18)" x="718" dy=".35em">4489FR29</text></g>
<g id="n87"><text class="c1" transform="rotate(86.93)" x="718" dy=".35em">4491 FR30</text></g>
<g id="n88"><text class="c1" transform="rotate(89.69)" x="718" dy=".35em">GU292317.1 CA</text></g>
<g id="n89"><text class="c1 e" transform="rotate(-87.56)" x="-718" dy=".35em">FJ744150.1 CA</text></g>
<g id="n90"><text class="c1 e" transform="rotate(-84.8)" x="-718" dy=".35em">FJ744149.1 CA</text></g>
<g id="n91"><text class="c1 e" transform="rotate(-82.05)" x="-718" dy=".35em">FJ744147.1 CA</text></g>
<g id="n92"><text class="c1 e" transform="rotate(-79.29)" x="-718" dy=".35em">KC189895.1 CA</text></g>
<g id="n93"><text class="c1 e" transform="rotate(-76.54)" x="-718" dy=".35em">FJ744148.1 CA</text></g>
<g id="n94"><text class="c1 e" transform="rotate(-73.78)" x="-718" dy=".35em">GU292314.1 CA</text></g>
<g id="n95"><text class="c1 e" transform="rotate(-71.03)" x="-718" dy=".35em">GU292318.1 CA</text></g>
<g id="n96"><text class="c1 e" transform="rotate(-68.27)" x="-718" dy=".35em">FJ744146.1 CA</text></g>
<g id="n97"><text class="c1 e" transform="rotate(-65.52)" x="-718" dy=".35em">GU292315.1 CA</text></g>
<g id="n98"><text class="c1 e" transform="rotate(-62.76)" x="-718" dy=".35em">GU292316.1 CA</text></g>
<g id="n99"><text class="c3 e" transform="rotate(-60.01)" x="-718" dy=".35em">MN161849.1 IN</text></g>
<g id="n100"><text class="c3 e" transform="rotate(-57.25)" x="-718" dy=".35em">M80216.1 SA</text></g>
<g id="n101"><text class="c3 e" transform="rotate(-54.5)" x="-718" dy=".35em">1751 FR26</text></g>
<g id="n102"><text class="c3 e" transform="rotate(-51.74)" x="-718" dy=".35em">2529 FR17</text></g>
<g id="n103"><text class="c3 e" transform="rotate(-48.99)" x="-718" dy=".35em">2055 FR15</text></g>
<g id="n104"><text class="c3 e" transform="rotate(-46.23)" x="-718" dy=".35em">2369 FR15</text></g>
<g id="n105"><text class="c3 e" transform="rotate(-43.48)" x="-718" dy=".35em">3431 FR23</text></g>
<g id="n106"><text class="c3 e" transform="rotate(-40.72)" x="-718" dy=".35em">2586 FR16</text></g>
<g id="n107"><text class="c3 e" transform="rotate(-37.97)" x="-718" dy=".35em">2339 FR17</text></g>
<g id="n108"><text class="c3 e" transform="rotate(-35.21)" x="-718" dy=".35em">OR729406 IN</text></g>
<g id="n109"><text class="c3 e" transform="rotate(-32.46)" x="-718" dy=".35em">ON204347.1 CH</text></g>
<g id="n110"><text class="c3 e" transform="rotate(-29.7)" x="-718" dy=".35em">KP691837 .1 CH</text></g>
<g id="n111"><text class="c3 e" transform="rotate(-26.95)" x="-718" dy=".35em">1298 FR22</text></g>
<g id="n112"><text class="c3 e" transform="rotate(-24.19)" x="-718" dy=".35em">1025 FR14</text></g>
<g id="n113"><text class="c3 e" transform="rotate(-21.44)" x="-718" dy=".35em">1024 FR14</text></g>
<g id="n114"><text class="c3 e" transform="rotate(-18.68)" x="-718" dy=".35em">1762 FR26</text></g>
<g id="n115"><text class="c3 e" transform="rotate(-15.93)" x="-718" dy=".35em">1167 FR13</text></g>
<g id="n116"><text class="c3 e" transform="rotate(-13.17)" x="-718" dy=".35em">1506 FR25</text></g>
<g id="n117"><text class="c3 e" transform="rotate(-10.42)" x="-718" dy=".35em">987 FR12</text></g>
<g id="n118"><text class="c3 e" transform="rotate(-7.66)" x="-718" dy=".35em">AF357971.1 UK</text></g>
<g id="n119"><text class="c3 e" transform="rotate(-4.91)" x="-718" dy=".35em">AF105220.1 UN</text></g>
<g id="n120"><text class="c3 e" transform="rotate(-2.15)" x="-718" dy=".35em">989 FR21</text></g>
<g id="n121"><text class="c3 e" transform="rotate(0.6)" x="-718" dy=".35em">985 FR27</text></g>
<g id="n122"><text class="c3 e" transform="rotate(3.36)" x="-718" dy=".35em">1466 FR24</text></g>
<g id="n123"><text class="c3 e" transform="rotate(6.11)" x="-718" dy=".35em">1481 FR25</text></g>
<g id="n124"><text class="c3 e" transform="rotate(8.87)" x="-718" dy=".35em">1296 FR19</text></g>
<g id="n125"><text class="c3 e" transform="rotate(11.62)" x="-718" dy=".35em">1006 FR20</text></g>
<g id="n126"><text class="c3 e" transform="rotate(14.38)" x="-718" dy=".35em">1000 FR20</text></g>
<g id="n127"><text class="c3 e" transform="rotate(17.13)" x="-718" dy=".35em">1468 FR18</text></g>
<g id="n128"><text class="c3 e" transform="rotate(19.89)" x="-718" dy=".35em">1037 FR18</text></g>
</g>
</g>
<g id="legend">
<rect x="46" y="1698" width="25" height="25" fill="#DDAA33"/><text class="lg" x="89" y="1726">ENTV-1</text>
<rect x="46" y="1753" width="25" height="25" fill="#004488"/><text class="lg" x="89" y="1781">ENTV-2</text>
<rect x="46" y="1808" width="25" height="25" fill="#BB5566"/><text class="lg" x="89" y="1836">JSRV</text>
<rect x="46" y="1863" width="25" height="25" fill="#66CCEE"/><text class="lg" x="89" y="1891">gERV</text>
<rect x="46" y="1917" width="25" height="25" fill="#228833"/><text class="lg" x="89" y="1945">sERV</text>
<circle cx="58.5" cy="1985" r="13" fill="#bdbdbd"/><text class="lg" x="89" y="1999">≥ 80 bootstrap value</text>
</g>
</svg>
